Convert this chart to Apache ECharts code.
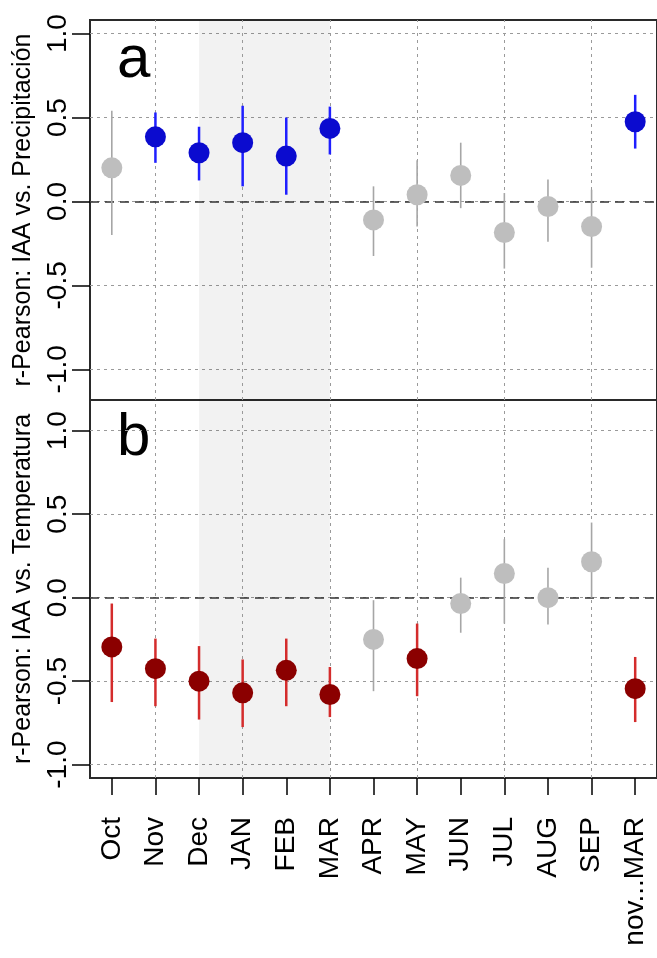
<!DOCTYPE html>
<html>
<head>
<meta charset="utf-8">
<script src="https://cdn.jsdelivr.net/npm/echarts@6/dist/echarts.min.js"></script>
<style>
  html, body { margin: 0; padding: 0; background: #fff; }
  #chart { width: 657px; height: 958px; }
</style>
</head>
<body>
<div id="chart"></div>
<script>
// categories
var months = ['Oct', 'Nov', 'Dec', 'JAN', 'FEB', 'MAR', 'APR', 'MAY', 'JUN', 'JUL', 'AUG', 'SEP', 'nov...MAR'];
var yTicks = [-1, -0.5, 0, 0.5, 1];

// a: IAA vs precipitation (r, interval low / high, significant flag)
var precipR   = [0.20, 0.385, 0.29, 0.35, 0.27, 0.435, -0.11, 0.04, 0.155, -0.185, -0.03, -0.15, 0.475];
var precipLo  = [-0.20, 0.23, 0.125, 0.09, 0.04, 0.28, -0.325, -0.15, -0.04, -0.40, -0.24, -0.395, 0.315];
var precipHi  = [0.54, 0.53, 0.445, 0.57, 0.50, 0.565, 0.09, 0.245, 0.35, 0.05, 0.13, 0.07, 0.635];
var precipSig = [0, 1, 1, 1, 1, 1, 0, 0, 0, 0, 0, 0, 1];

// b: IAA vs temperature
var tempR   = [-0.295, -0.425, -0.50, -0.57, -0.435, -0.58, -0.25, -0.365, -0.035, 0.145, 0.0, 0.215, -0.545];
var tempLo  = [-0.625, -0.65, -0.73, -0.775, -0.65, -0.715, -0.56, -0.59, -0.21, -0.155, -0.16, 0.0, -0.745];
var tempHi  = [-0.035, -0.245, -0.29, -0.37, -0.245, -0.415, -0.015, -0.155, 0.12, 0.35, 0.18, 0.45, -0.355];
var tempSig = [1, 1, 1, 1, 1, 1, 0, 1, 0, 0, 0, 0, 1];

var FONT = 'Liberation Sans';
var GREY_PT = '#bebebe', GREY_BAR = '#a6a6a6';

var panels = [
    { r: precipR, lo: precipLo, hi: precipHi, sig: precipSig, pt: '#0b0bcf', bar: '#1f1fff',
      name: 'r-Pearson: IAA vs. Precipitación', min: -1.183, max: 1.081, letter: 'a' },
    { r: tempR, lo: tempLo, hi: tempHi, sig: tempSig, pt: '#8b0000', bar: '#d42c2c',
      name: 'r-Pearson: IAA vs. Temperatura', min: -1.08, max: 1.184, letter: 'b' }
];

var grids = [
    { left: 90, right: -8, top: 20, height: 380 },
    { left: 90, right: -8, top: 400, height: 378 }
];

var chart = echarts.init(document.getElementById('chart'));
var option = {
    animation: false,
    backgroundColor: '#fff',
    textStyle: { fontFamily: FONT },
    grid: grids.map(function (g) {
        return Object.assign({ show: true, borderColor: '#2a2a2a', borderWidth: 2, backgroundColor: 'transparent' }, g);
    }),
    xAxis: [],
    yAxis: [],
    series: [],
    graphic: []
};

panels.forEach(function (p, gi) {
    var last = gi === panels.length - 1;
    option.xAxis.push({
        type: 'category',
        gridIndex: gi,
        data: months,
        boundaryGap: true,
        position: 'bottom',
        axisLine: { show: false, onZero: false },
        axisTick: { show: last, alignWithLabel: true, length: 17, lineStyle: { color: '#000', width: 1.5 } },
        axisLabel: { show: last, interval: 0, rotate: 90, margin: 39, fontSize: 28, color: '#000', fontFamily: FONT },
        splitLine: { show: false }
    });
    option.yAxis.push({
        type: 'value',
        gridIndex: gi,
        min: p.min,
        max: p.max,
        name: p.name,
        nameLocation: 'middle',
        nameGap: 52,
        nameTextStyle: { fontSize: 25, color: '#000', fontFamily: FONT },
        axisLine: { show: false, onZero: false },
        axisTick: { show: true, length: 18, customValues: yTicks, lineStyle: { color: '#000', width: 1.5 } },
        axisLabel: {
            customValues: yTicks, rotate: 90, margin: 18, fontSize: 28, color: '#000', fontFamily: FONT,
            formatter: function (v) { return v.toFixed(1); }
        },
        splitLine: { show: true, lineStyle: { color: '#9a9a9a', type: [3, 4], width: 1 } }
    });

    // shading, vertical grid and zero line
    option.series.push({
        type: 'line',
        xAxisIndex: gi, yAxisIndex: gi,
        data: [],
        z: 1,
        silent: true,
        markArea: {
            silent: true,
            z: 1,
            itemStyle: { color: 'rgba(0,0,0,0.05)' },
            data: [[{ xAxis: 'Dec' }, { xAxis: 'MAR' }]]
        },
        markLine: {
            silent: true,
            z: 1,
            symbol: ['none', 'none'],
            label: { show: false },
            lineStyle: { color: '#9a9a9a', type: [3, 4], width: 1 },
            data: ['Nov', 'JAN', 'MAR', 'MAY', 'JUL', 'SEP'].map(function (m) { return { xAxis: m }; })
                .concat([{ yAxis: 0, lineStyle: { color: '#333', type: [9, 6], width: 1.6 } }])
        }
    });

    // error bars
    option.series.push({
        type: 'custom',
        xAxisIndex: gi, yAxisIndex: gi,
        z: 2,
        silent: true,
        data: p.lo.map(function (l, i) { return [i, l, p.hi[i]]; }),
        encode: { x: 0, y: [1, 2] },
        renderItem: function (params, api) {
            var i = api.value(0);
            var a = api.coord([i, api.value(1)]);
            var b = api.coord([i, api.value(2)]);
            var on = p.sig[params.dataIndex];
            return {
                type: 'line',
                shape: { x1: a[0], y1: a[1], x2: b[0], y2: b[1] },
                style: { stroke: on ? p.bar : GREY_BAR, lineWidth: on ? 2.5 : 1.6 }
            };
        }
    });

    // points
    option.series.push({
        type: 'scatter',
        xAxisIndex: gi, yAxisIndex: gi,
        z: 3,
        symbol: 'circle',
        symbolSize: 21,
        itemStyle: { opacity: 1 },
        data: p.r.map(function (v, i) {
            return { value: v, itemStyle: { color: p.sig[i] ? p.pt : GREY_PT, opacity: 1 } };
        })
    });

    option.graphic.push({
        type: 'text',
        left: 117,
        top: gi === 0 ? 30 : 408,
        style: { text: p.letter, font: '60px "' + FONT + '"', fill: '#000' }
    });
});

chart.setOption(option);
</script>
</body>
</html>
